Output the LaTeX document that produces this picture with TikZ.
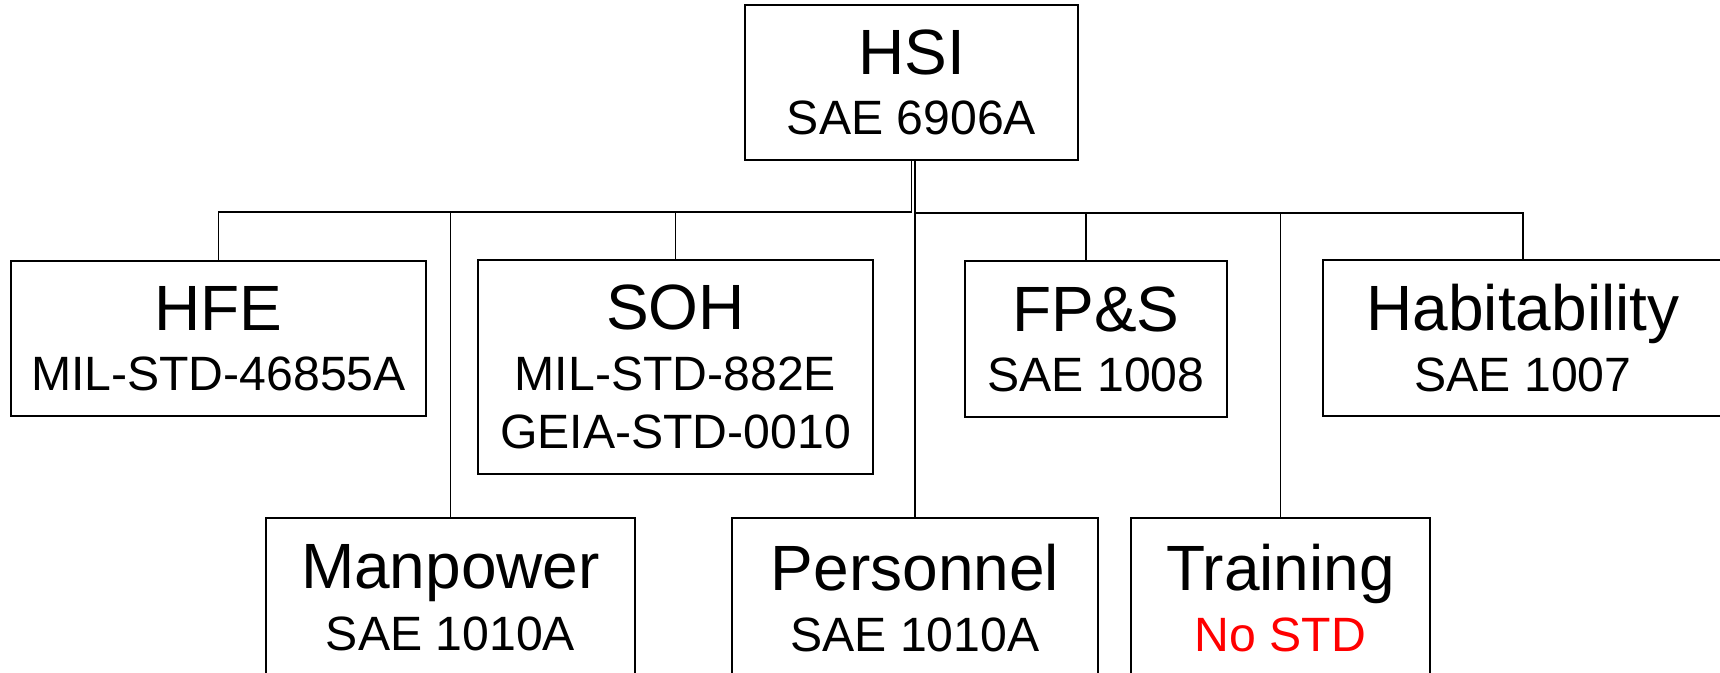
\documentclass[tikz,border=0pt]{standalone}
\usepackage{fontspec}
\setmainfont{Liberation Sans}
\usetikzlibrary{positioning}
\newcommand{\hdfont}{\fontsize{18.2pt}{16.6pt}\selectfont}
\newcommand{\stdfont}{\fontsize{13.7pt}{16.6pt}\selectfont}

\begin{document}
\begin{tikzpicture}[x=0.01cm,y=-0.01cm,
   box/.style={draw,line width=0.6pt,align=center,inner sep=0pt,font=\stdfont},
   link/.style={line width=0.45pt}]
  \useasboundingbox (0,0) rectangle (1720,672);
  \clip (0,0) rectangle (1720,672);
  \node[box,minimum width=3.33cm,minimum height=1.55cm] (hsi) at (911.5,82.5) {\hdfont HSI\\[0.5pt]SAE 6906A};
  % first row
  \node[box,minimum width=4.15cm,minimum height=1.55cm] (hfe) at (218.5,338.5) {\hdfont HFE\\[0.5pt]MIL-STD-46855A};
  \node[box,minimum width=3.95cm,minimum height=2.14cm] (soh) at (675.5,367) {\hdfont SOH\\[0.5pt]MIL-STD-882E\\GEIA-STD-0010};
  \node[box,minimum width=2.62cm,minimum height=1.56cm] (fps) at (1096,339) {\hdfont FP\&S\\[0.5pt]SAE 1008};
  \node[box,minimum width=4.00cm,minimum height=1.56cm] (hab) at (1523,338) {\hdfont Habitability\\[0.5pt]SAE 1007};
  % second row
  \node[box,minimum width=3.69cm,minimum height=1.60cm] (man) at (450.5,598) {\hdfont Manpower\\[1pt]SAE 1010A};
  \node[box,minimum width=3.66cm,minimum height=1.60cm] (per) at (915,598) {\hdfont Personnel\\[1pt]SAE 1010A};
  \node[box,minimum width=2.99cm,minimum height=1.60cm] (tra) at (1280.5,598) {\hdfont Training\\[1pt]\color{red}No STD};
  % left branch
  \path (hsi.south) ++(0,51) coordinate (lj);
  \draw[link] (hsi.south) -- (lj) -| (hfe.north);
  \draw[link] (soh.north) -- (soh.north |- lj);
  \draw[link] (man.north) -- (man.north |- lj);
  % right branch
  \path (per.north |- hsi.south) ++(0,52) coordinate (rj);
  \draw[link] (per.north |- hsi.south) -- (per.north);
  \draw[link] (rj) -| (hab.north);
  \path (fps.north) ++(-10,0) coordinate (fpsin);
  \draw[link] (fpsin) -- (fpsin |- rj);
  \draw[link] (tra.north) -- (tra.north |- rj);
\end{tikzpicture}
\end{document}
